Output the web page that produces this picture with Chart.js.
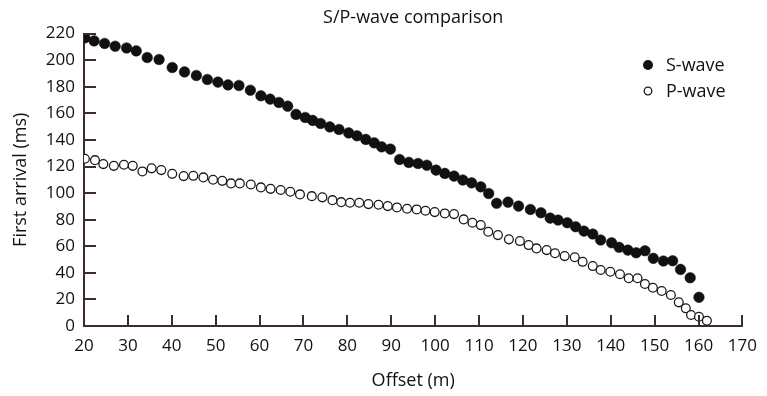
<!DOCTYPE html>
<html><head><meta charset="utf-8">
<script src="https://cdn.jsdelivr.net/npm/chart.js@4.4.1/dist/chart.umd.min.js"></script>
<style>html,body{margin:0;padding:0;background:#fff}#wrap{width:767px;height:396px}</style>
</head><body><div id="wrap"><canvas id="c" width="767" height="396"></canvas></div>
<script>
const sOffsets = [20.2,22.3,24.7,27.1,29.7,31.9,34.4,37.1,40.1,42.9,45.6,48.1,50.5,52.8,55.3,57.9,60.3,62.4,64.4,66.4,68.3,70.4,72.1,73.9,76.0,78.1,80.3,82.2,84.2,86.1,87.8,89.8,91.9,94.0,96.1,98.1,100.2,102.2,104.3,106.3,108.3,110.4,112.2,114.0,116.6,119.0,121.7,124.1,126.2,128.0,130.1,132.0,133.9,135.9,137.7,140.2,141.9,143.9,145.8,147.8,149.7,152.0,154.1,155.9,158.1,160.1];
const sTimes = [216.8,214.5,212.6,210.5,209.2,207.0,202.0,200.5,194.5,191.2,188.5,185.5,183.5,181.4,181.0,177.4,173.2,170.7,168.2,165.4,159.2,156.9,154.7,152.4,149.8,147.9,145.3,143.1,140.4,137.8,134.8,133.1,125.3,123.1,122.3,121.0,117.3,114.8,112.8,109.8,107.7,104.7,99.7,92.3,93.2,90.2,87.7,85.2,81.2,79.7,77.7,74.7,71.4,69.2,64.7,62.6,59.2,57.1,55.1,56.6,50.9,48.9,49.1,42.6,36.3,21.6];
const pOffsets = [20.2,22.5,24.4,26.8,29.1,31.1,33.3,35.4,37.6,40.1,42.7,44.9,47.2,49.4,51.5,53.5,55.5,58.0,60.3,62.5,64.8,67.0,69.2,71.9,74.3,76.6,78.6,80.6,82.7,84.8,87.1,89.2,91.3,93.6,95.8,97.8,99.9,102.2,104.3,106.5,108.5,110.4,112.1,114.3,116.8,119.3,121.3,123.1,125.4,127.3,129.5,131.8,133.6,135.9,137.7,139.9,142.1,144.1,146.1,147.8,149.6,151.6,153.7,155.5,157.1,158.3,160.1,161.9];
const pTimes = [125.8,124.8,121.8,120.5,121.3,120.5,116.3,118.6,117.3,114.5,112.8,113.0,111.8,110.0,109.2,107.3,107.3,106.5,104.3,103.2,102.3,101.0,99.0,97.7,96.8,94.7,93.2,92.7,92.7,91.7,91.2,90.2,89.2,88.2,87.7,86.7,85.7,84.7,84.2,80.2,77.7,75.9,70.9,68.4,65.2,63.9,60.9,58.4,57.1,54.7,52.6,51.7,48.3,45.1,42.1,40.8,38.9,35.9,35.9,31.6,28.8,26.3,23.3,17.8,13.3,8.3,7.0,4.0];
const xTickValues = [20,30,40,50,60,70,80,90,100,110,120,130,140,150,160,170];
const yTickValues = [0,20,40,60,80,100,120,140,160,180,200,220];
const seriesLabels = ['S-wave','P-wave'];

const FONT = "'Open Sans', 'DejaVu Sans', sans-serif";
const AXIS = '#3e2c2c';
const INK = '#111111';

const toPoints = (xs, ys) => xs.map((x, i) => ({x: x, y: ys[i]}));

const titleOverPlot = {
  id: 'titleOverPlot',
  afterLayout(chart) {
    const t = chart.titleBlock;
    if (t) { t.left = chart.chartArea.left; t.right = chart.chartArea.right; }
  }
};

const inwardTicks = {
  id: 'inwardTicks',
  afterDraw(chart) {
    const ctx = chart.ctx;
    const xs = chart.scales.x, ys = chart.scales.y;
    const ca = chart.chartArea;
    ctx.save();
    ctx.strokeStyle = AXIS;
    ctx.lineWidth = 2;
    xs.ticks.forEach(t => {
      if (t.value === xs.min) return;
      const px = Math.round(xs.getPixelForValue(t.value));
      ctx.beginPath(); ctx.moveTo(px, ca.bottom); ctx.lineTo(px, ca.bottom - 11); ctx.stroke();
    });
    ys.ticks.forEach(t => {
      if (t.value === ys.min) return;
      const py = Math.round(ys.getPixelForValue(t.value));
      ctx.beginPath(); ctx.moveTo(ca.left, py); ctx.lineTo(ca.left + 12, py); ctx.stroke();
    });
    ctx.restore();
  }
};

const pointLegend = {
  id: 'pointLegend',
  afterDraw(chart) {
    const ctx = chart.ctx;
    ctx.save();
    chart.data.datasets.forEach((ds, i) => {
      const cy = 65 + i * 26;
      const cx = 648;
      ctx.beginPath();
      ctx.arc(cx, cy, i === 0 ? 5 : 3.8, 0, Math.PI * 2);
      if (i === 0) { ctx.fillStyle = ds.backgroundColor; ctx.fill(); }
      else { ctx.fillStyle = '#fff'; ctx.fill(); ctx.lineWidth = 1.3; ctx.strokeStyle = ds.borderColor; ctx.stroke(); }
      ctx.fillStyle = INK;
      ctx.font = "18px " + FONT;
      ctx.textAlign = 'left';
      ctx.textBaseline = 'middle';
      ctx.fillText(ds.label, 666, cy + 1);
    });
    ctx.restore();
  }
};

new Chart(document.getElementById('c'), {
  type: 'scatter',
  data: {
    datasets: [
      { label: seriesLabels[0], data: toPoints(sOffsets, sTimes), pointStyle: 'circle', pointRadius: 5.3, pointBorderWidth: 0.5, backgroundColor: INK, borderColor: INK, pointHoverRadius: 5.3 },
      { label: seriesLabels[1], data: toPoints(pOffsets, pTimes), pointStyle: 'circle', pointRadius: 4.4, pointBorderWidth: 1.3, backgroundColor: '#ffffff', borderColor: '#1a1a1a', pointHoverRadius: 4.4 }
    ]
  },
  options: {
    responsive: false,
    animation: false,
    events: [],
    layout: { padding: { left: 0, right: 15, top: 0, bottom: 0 } },
    plugins: {
      legend: { display: false },
      tooltip: { enabled: false },
      title: { display: true, text: 'S/P-wave comparison', color: INK, font: { family: FONT, size: 18, weight: 'normal' }, padding: { top: 7, bottom: 5 } }
    },
    scales: {
      x: {
        type: 'linear', min: 20, max: 170,
        afterBuildTicks: s => { s.ticks = xTickValues.map(v => ({value: v})); },
        afterFit: s => { s.height = 70; },
        grid: { display: true, drawOnChartArea: false, drawTicks: false },
        border: { display: true, color: AXIS, width: 2 },
        ticks: { color: INK, padding: 10, font: { family: FONT, size: 17 }, maxRotation: 0, autoSkip: false },
        title: { display: true, text: 'Offset (m)', color: INK, font: { family: FONT, size: 18 }, padding: { top: 0, bottom: 4 } }
      },
      y: {
        type: 'linear', min: 0, max: 220,
        afterBuildTicks: s => { s.ticks = yTickValues.map(v => ({value: v})); },
        afterFit: s => { s.width = 84; },
        grid: { display: true, drawOnChartArea: false, drawTicks: false },
        border: { display: true, color: AXIS, width: 2 },
        ticks: { color: INK, padding: 9, font: { family: FONT, size: 17 }, autoSkip: false },
        title: { display: true, text: 'First arrival (ms)', color: INK, font: { family: FONT, size: 18 }, padding: { top: 10, bottom: 0 } }
      }
    }
  },
  plugins: [titleOverPlot, inwardTicks, pointLegend]
});
</script></body></html>
